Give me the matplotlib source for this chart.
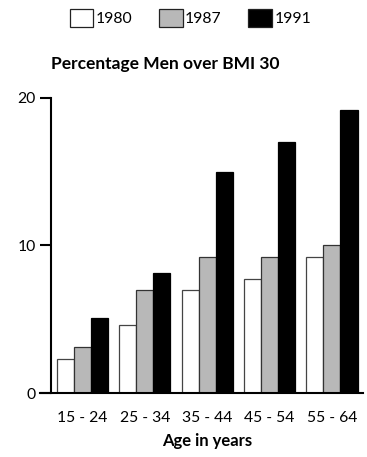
import numpy as np
import matplotlib.pyplot as plt
from matplotlib.patches import Patch

plt.rcParams['font.family'] = ['Lato', 'DejaVu Sans']

age_groups = ['15 - 24', '25 - 34', '35 - 44', '45 - 54', '55 - 64']
years = ['1980', '1987', '1991']
pct_1980 = [2.3, 4.6, 7.0, 7.7, 9.2]
pct_1987 = [3.1, 7.0, 9.2, 9.2, 10.0]
pct_1991 = [5.1, 8.1, 15.0, 17.0, 19.2]

fills = ['white', '#b8b8b8', 'black']
edges = ['#444444', '#333333', 'black']

fig = plt.figure(figsize=(3.67, 4.57), dpi=100)
ax = fig.add_axes([0.139, 0.140, 0.850, 0.646])

x = np.arange(len(age_groups))
w = 0.273
for i, vals in enumerate([pct_1980, pct_1987, pct_1991]):
    ax.bar(x + (i - 1) * w, vals, w, color=fills[i], edgecolor=edges[i], linewidth=0.9)

ax.set_xlim(-0.505, 4.497)
ax.set_ylim(0, 20)
ax.set_yticks([0, 10, 20])
ax.set_xticks(x)
ax.set_xticklabels(age_groups)
ax.tick_params(axis='x', length=0, pad=13, labelsize=11.3)
ax.tick_params(axis='y', length=8, width=1.5, pad=3, labelsize=11.3)
for s in ['top', 'right']:
    ax.spines[s].set_visible(False)
ax.spines['left'].set_linewidth(1.5)
ax.spines['bottom'].set_linewidth(1.5)
ax.spines['bottom'].set_bounds(-0.68, 4.497)
ax.set_xlabel('Age in years', fontsize=12, fontweight='bold', labelpad=6)

fig.text(0.45, 0.860, 'Percentage Men over BMI 30', fontsize=12.5, fontweight='bold',
         ha='center', va='center')

handles = [Patch(facecolor=fills[i], edgecolor='#222222', linewidth=0.9) for i in range(3)]
fig.legend(handles, years, loc='center', bbox_to_anchor=(0.519, 0.961), ncol=3,
           frameon=False, fontsize=11.3, handlelength=1.5, handleheight=1.35,
           handletextpad=0.15, columnspacing=1.7, borderaxespad=0)

fig.savefig('out.png', dpi=100)
